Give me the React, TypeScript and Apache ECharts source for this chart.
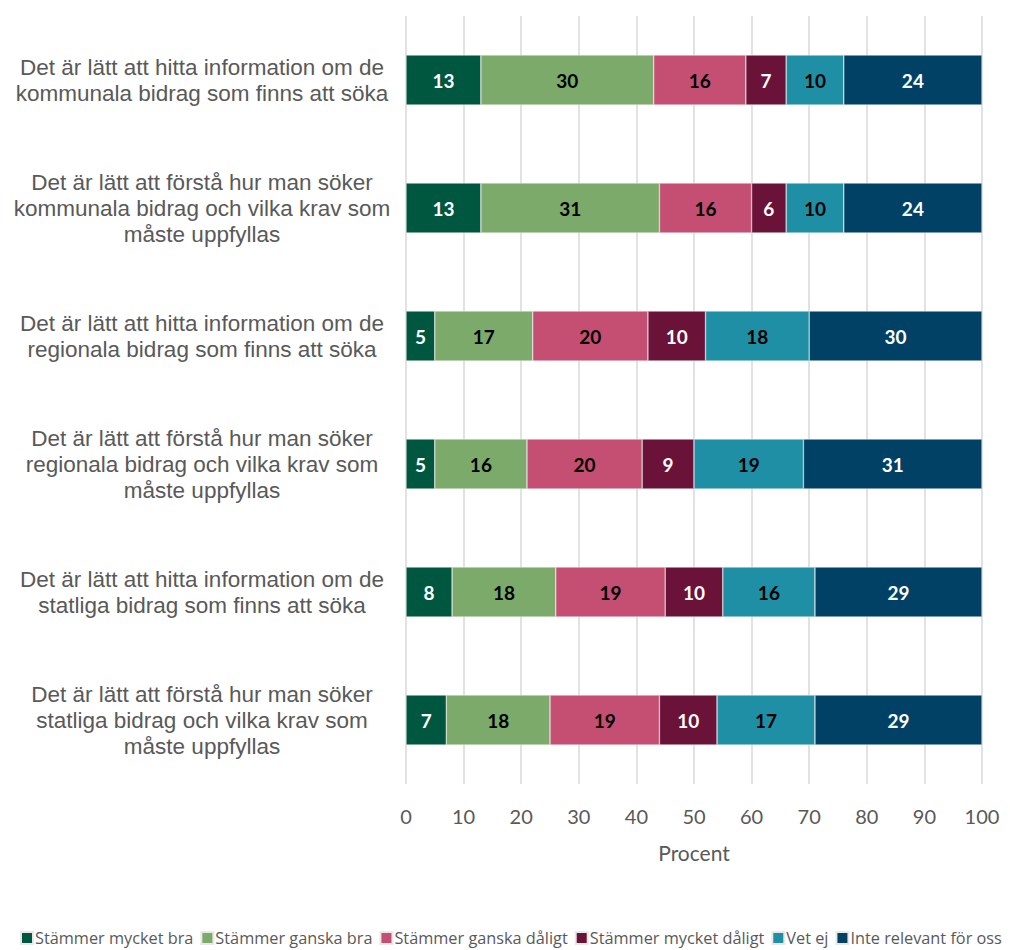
import React, { useEffect, useRef } from "react";
import * as echarts from "echarts";

const categories = [
  "Det är lätt att hitta information om de\nkommunala bidrag som finns att söka",
  "Det är lätt att förstå hur man söker\nkommunala bidrag och vilka krav som\nmåste uppfyllas",
  "Det är lätt att hitta information om de\nregionala bidrag som finns att söka",
  "Det är lätt att förstå hur man söker\nregionala bidrag och vilka krav som\nmåste uppfyllas",
  "Det är lätt att hitta information om de\nstatliga bidrag som finns att söka",
  "Det är lätt att förstå hur man söker\nstatliga bidrag och vilka krav som\nmåste uppfyllas",
];

const seriesNames = [
  "Stämmer mycket bra",
  "Stämmer ganska bra",
  "Stämmer ganska dåligt",
  "Stämmer mycket dåligt",
  "Vet ej",
  "Inte relevant för oss",
];

const mycketBra = [13, 13, 5, 5, 8, 7];
const ganskaBra = [30, 31, 17, 16, 18, 18];
const ganskaDaligt = [16, 16, 20, 20, 19, 19];
const mycketDaligt = [7, 6, 10, 9, 10, 10];
const vetEj = [10, 10, 18, 19, 16, 17];
const inteRelevant = [24, 24, 30, 31, 29, 29];

const seriesData = [mycketBra, ganskaBra, ganskaDaligt, mycketDaligt, vetEj, inteRelevant];
const colors = ["#00573F", "#7BAA6A", "#C54F72", "#6B1239", "#1F8FA6", "#004165"];
const labelColors = ["#FFFFFF", "#000000", "#000000", "#FFFFFF", "#000000", "#FFFFFF"];

const xTicks = [0, 10, 20, 30, 40, 50, 60, 70, 80, 90, 100];

const FONT = "Lato, 'Noto Sans', sans-serif";
const WIDE = "'Open Sans', 'Noto Sans', sans-serif";
const CAT = "'Liberation Sans', Arial, sans-serif";

export default function App() {
  const ref = useRef<HTMLDivElement>(null);
  useEffect(() => {
    if (!ref.current) return;
    const chart = echarts.init(ref.current, null, { renderer: "svg" });
    chart.setOption({
      animation: false,
      textStyle: { fontFamily: FONT },
      grid: { left: 406, right: 28, top: 16, bottom: 166, containLabel: false },
      legend: {
        left: 20,
        top: 928,
        padding: [2, 0, 0, 0],
        itemWidth: 12,
        itemHeight: 12,
        itemGap: 7,
        icon: "rect",
        data: seriesNames,
        textStyle: { fontSize: 16.3, color: "#595959", fontFamily: WIDE, padding: [0, 0, 0, -3] },
      },
      xAxis: {
        type: "value",
        min: xTicks[0],
        max: xTicks[xTicks.length - 1],
        interval: 10,
        name: "Procent",
        nameLocation: "middle",
        nameGap: 58,
        nameTextStyle: { fontSize: 21, color: "#595959", fontFamily: FONT },
        axisLine: { show: false },
        axisTick: { show: false },
        axisLabel: { fontSize: 20, color: "#595959", margin: 22, fontFamily: FONT },
        splitLine: { show: true, lineStyle: { color: "#D9D9D9", width: 1.5 } },
      },
      yAxis: {
        type: "category",
        inverse: true,
        data: categories,
        axisLine: { show: false },
        axisTick: { show: false },
        axisLabel: {
          margin: 14,
          align: "right",
          width: 380,
          overflow: "none",
          formatter: (v: string) =>
            v
              .split("\n")
              .map((l) => "{c|" + l + "}")
              .join("\n"),
          rich: {
            c: {
              align: "center",
              fontSize: 22.5,
              lineHeight: 26,
              color: "#595959",
              fontFamily: CAT,
            },
          },
        },
      },
      series: seriesData.map((d, i) => ({
        name: seriesNames[i],
        type: "bar",
        stack: "total",
        data: d,
        barWidth: 50,
        itemStyle: { color: colors[i], borderColor: "#E8E8E8", borderWidth: 0.5 },
        label: {
          show: true,
          position: "inside",
          color: labelColors[i],
          fontSize: 19,
          fontWeight: "bold",
          fontFamily: FONT,
        },
      })),
    });
    return () => chart.dispose();
  }, []);
  return (
    <div
      ref={ref}
      style={{ position: "fixed", left: 0, top: 0, width: 1010, height: 950, background: "#fff" }}
    />
  );
}
